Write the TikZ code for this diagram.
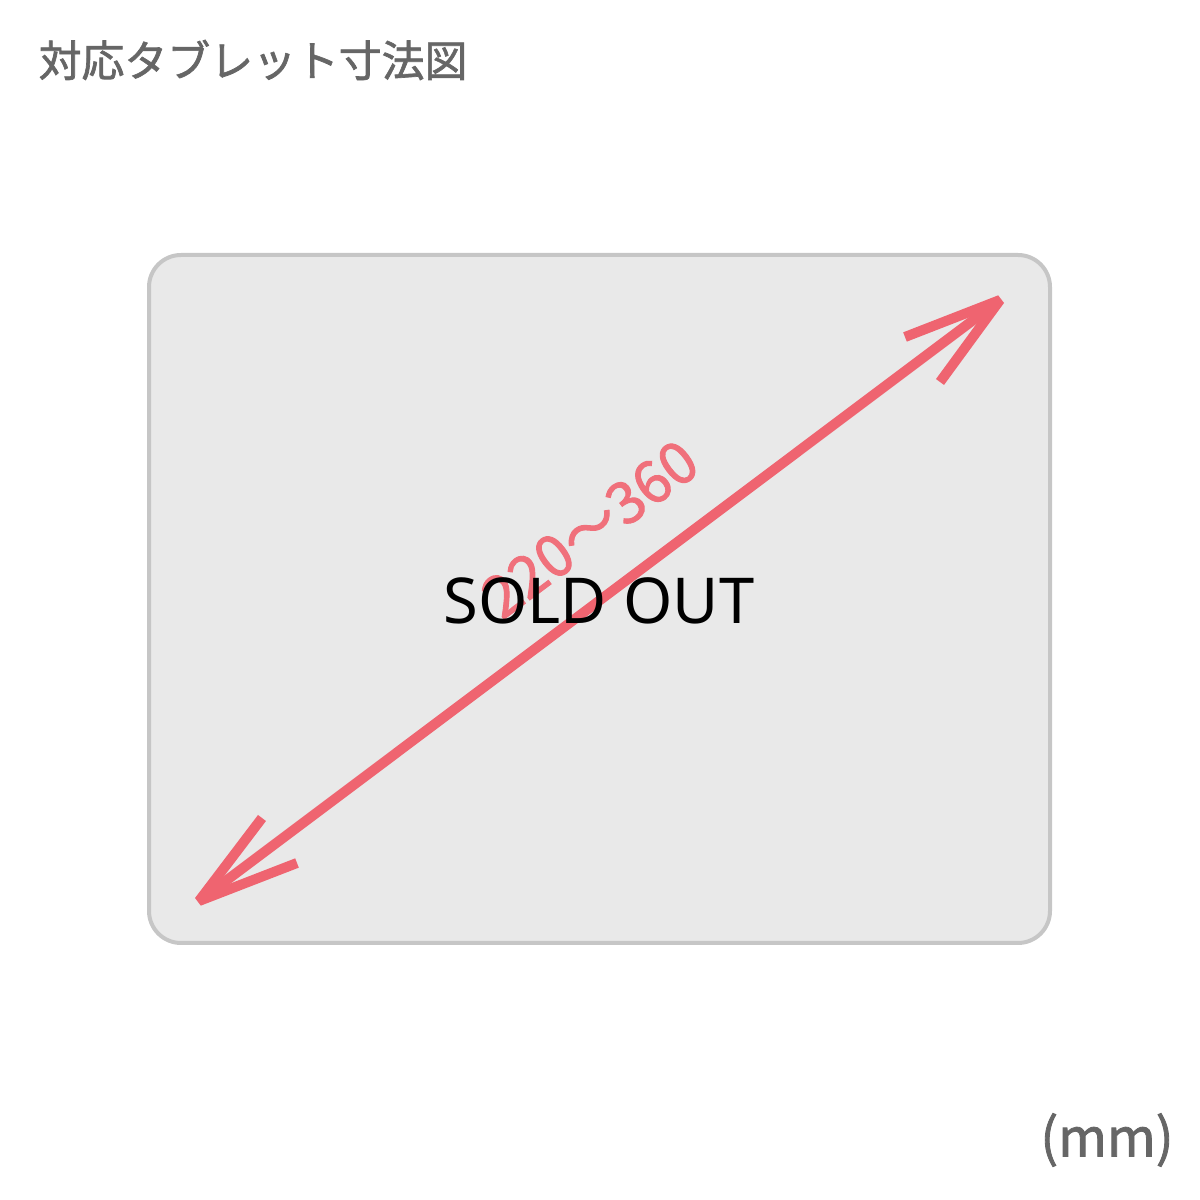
\documentclass[tikz,border=0pt]{standalone}
\usepackage{fontspec}
\usepackage{tikz}
\usetikzlibrary{calc}
\newfontfamily\jpfont{Noto Sans CJK JP}[FakeBold=1.6]
\newfontfamily\notofont{Noto Sans}
\definecolor{tabgray}{HTML}{E9E9E9}
\definecolor{edgegray}{HTML}{C6C6C6}
\definecolor{textgray}{HTML}{666666}
\definecolor{arrowred}{HTML}{EF6470}

\begin{document}
\begin{tikzpicture}[x=1cm,y=1cm,
tablet/.style={fill=tabgray,draw=edgegray,line width=0.04cm,rounded corners=0.32cm},
diag/.style={draw=arrowred,line width=0.1cm,line join=bevel},
sizelabel/.style={text=arrowred!92!white,font=\jpfont\fontsize{16.5}{16.5}\selectfont,inner sep=0pt},
title/.style={text=textgray,font=\jpfont\fontsize{12.2}{12.2}\selectfont,inner sep=0pt}]
\useasboundingbox (0,0) rectangle (12,12);

%tablet outline
\draw[tablet] (1.49,2.57) rectangle (10.50,9.45);

%ends of the diagonal
\coordinate (lo) at (1.99,2.99);
\coordinate (hi) at (10.00,9.00);
\draw[diag] (lo) -- (hi);
%open heads at both ends
\draw[diag] ($(hi)+(-0.95,-0.37)$) coordinate (hi1) -- (hi) -- ($(hi)+(-0.60,-0.82)$) coordinate (hi2);
\draw[diag] ($(lo)+(0.98,0.38)$) coordinate (lo1) -- (lo) -- ($(lo)+(0.63,0.83)$) coordinate (lo2);

\node[sizelabel,rotate=36.87] (len) at (5.90,6.71) {220〜360};

\node[font=\notofont\fontsize{18}{18}\selectfont,inner sep=0pt] (sold) at (5.99,5.99) {SOLD OUT};

\node[title,anchor=west] (head) at (0.38,11.40) {対応タブレット寸法図};
\node[title,font=\jpfont\fontsize{15}{15}\selectfont] (unit) at (11.07,0.60) {(mm)};
\end{tikzpicture}
\end{document}
